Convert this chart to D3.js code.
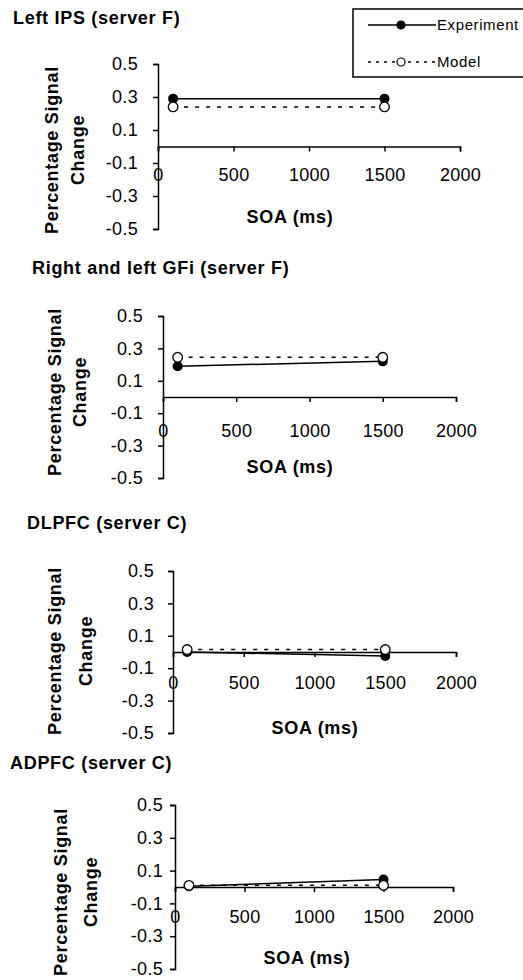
<!DOCTYPE html>
<html>
<head>
<meta charset="utf-8">
<script src="https://cdn.jsdelivr.net/npm/d3@7"></script>
<style>
  body { margin: 0; background: #fff; }
  svg { font-family: "Liberation Sans", Arial, sans-serif; }
  .title, .aText { font-weight: bold; font-size: 18px; letter-spacing: 0.7px; }
  .tick text { font-size: 18px; letter-spacing: 0.3px; fill: #000; }
  .domain, .tick line { stroke: #000; stroke-width: 1.5px; }
</style>
</head>
<body>
<div id="chart"></div>
<script>
// Chart values
var soa = [100, 1500];
var panelTitles = ["Left IPS (server F)", "Right and left GFi (server F)", "DLPFC (server C)", "ADPFC (server C)"];
var experiment = [
  [0.29, 0.29],
  [0.19, 0.22],
  [0.0, -0.025],
  [0.005, 0.045]
];
var model = [
  [0.24, 0.24],
  [0.245, 0.245],
  [0.015, 0.015],
  [0.01, 0.01]
];
var xTicks = [0, 500, 1000, 1500, 2000];
var yTicks = [0.5, 0.3, 0.1, -0.1, -0.3, -0.5];
var seriesNames = ["Experiment", "Model"];

// Layout of each panel (pixel boxes)
var layout = [
  { title: [13, 18],  x: [158, 460], y: [229, 64],  yl: [52, 78, 150], xl: [290, 217], xOff: 28, yGap: 15 },
  { title: [32, 268], x: [163, 456], y: [478, 316], yl: [55, 80, 392], xl: [290, 467], xOff: 34, yGap: 15 },
  { title: [27, 523], x: [173, 456], y: [733, 571], yl: [55, 86, 651], xl: [315, 728], xOff: 31, yGap: 14 },
  { title: [10, 763], x: [175, 453], y: [969, 805], yl: [61, 91, 892], xl: [307, 958], xOff: 30, yGap: 7 }
];

var svg = d3.select("#chart")
  .append("svg")
  .attr("width", 523)
  .attr("height", 980);

layout.forEach(function(L, i) {
  var g = svg.append("g");

  var xScale = d3.scaleLinear().domain([0, 2000]).range(L.x);
  var yScale = d3.scaleLinear().domain([-0.5, 0.5]).range(L.y);

  // title
  g.append("text")
    .attr("class", "title")
    .attr("x", L.title[0])
    .attr("y", L.title[1])
    .attr("dy", "0.35em")
    .text(panelTitles[i]);

  // y axis
  g.append("g")
    .attr("transform", `translate(${L.x[0]},0)`)
    .call(d3.axisLeft(yScale).tickValues(yTicks).tickSize(5).tickPadding(L.yGap)
      .tickFormat(function(d) { return d.toFixed(1); }));

  // x axis sits on zero, labels pushed down
  g.append("g")
    .attr("transform", `translate(0,${yScale(0)})`)
    .call(d3.axisBottom(xScale).tickValues(xTicks).tickSize(5).tickPadding(L.xOff - 5 - 6.3)
      .tickFormat(d3.format("d")));

  // axis titles
  g.append("text")
    .attr("class", "aText")
    .attr("transform", `translate(${L.yl[0]},${L.yl[2]}) rotate(-90)`)
    .attr("text-anchor", "middle")
    .attr("dy", "0.35em")
    .text("Percentage Signal");
  g.append("text")
    .attr("class", "aText")
    .attr("transform", `translate(${L.yl[1]},${L.yl[2]}) rotate(-90)`)
    .attr("text-anchor", "middle")
    .attr("dy", "0.35em")
    .text("Change");
  g.append("text")
    .attr("class", "aText")
    .attr("x", L.xl[0])
    .attr("y", L.xl[1])
    .attr("text-anchor", "middle")
    .attr("dy", "0.35em")
    .text("SOA (ms)");

  var line = d3.line()
    .x(function(d, j) { return xScale(soa[j]); })
    .y(function(d) { return yScale(d); });

  // experiment (solid, filled circles)
  g.append("path")
    .attr("d", line(experiment[i]))
    .attr("fill", "none")
    .attr("stroke", "#000")
    .attr("stroke-width", 1.5);

  g.selectAll("circle.exp")
    .data(experiment[i])
    .enter()
    .append("circle")
    .attr("class", "exp")
    .attr("cx", function(d, j) { return xScale(soa[j]); })
    .attr("cy", function(d) { return yScale(d); })
    .attr("r", 5)
    .attr("fill", "#000");

  // model (dashed, open circles) drawn on top
  g.append("path")
    .attr("d", line(model[i]))
    .attr("fill", "none")
    .attr("stroke", "#000")
    .attr("stroke-width", 1.5)
    .attr("stroke-dasharray", "4,7");

  g.selectAll("circle.model")
    .data(model[i])
    .enter()
    .append("circle")
    .attr("class", "model")
    .attr("cx", function(d, j) { return xScale(soa[j]); })
    .attr("cy", function(d) { return yScale(d); })
    .attr("r", 4.8)
    .attr("fill", "#fff")
    .attr("stroke", "#000")
    .attr("stroke-width", 1.3);
});

// legend
var legend = svg.append("g");
legend.append("rect")
  .attr("x", 353)
  .attr("y", 9)
  .attr("width", 190)
  .attr("height", 68)
  .attr("fill", "#fff")
  .attr("stroke", "#000")
  .attr("stroke-width", 1.5);

seriesNames.forEach(function(name, k) {
  var ly = 25 + k * 37;
  legend.append("line")
    .attr("x1", 368).attr("x2", 436)
    .attr("y1", ly).attr("y2", ly)
    .attr("stroke", "#000")
    .attr("stroke-width", 1.3)
    .attr("stroke-dasharray", k ? "3,5" : null);
  legend.append("circle")
    .attr("cx", 401).attr("cy", ly)
    .attr("r", 4)
    .attr("fill", k ? "#fff" : "#000")
    .attr("stroke", "#000")
    .attr("stroke-width", 1.2);
  legend.append("text")
    .attr("x", 437)
    .attr("y", ly)
    .attr("dy", "0.35em")
    .attr("font-size", "15px")
    .attr("letter-spacing", "0.6px")
    .text(name);
});
</script>
</body>
</html>
